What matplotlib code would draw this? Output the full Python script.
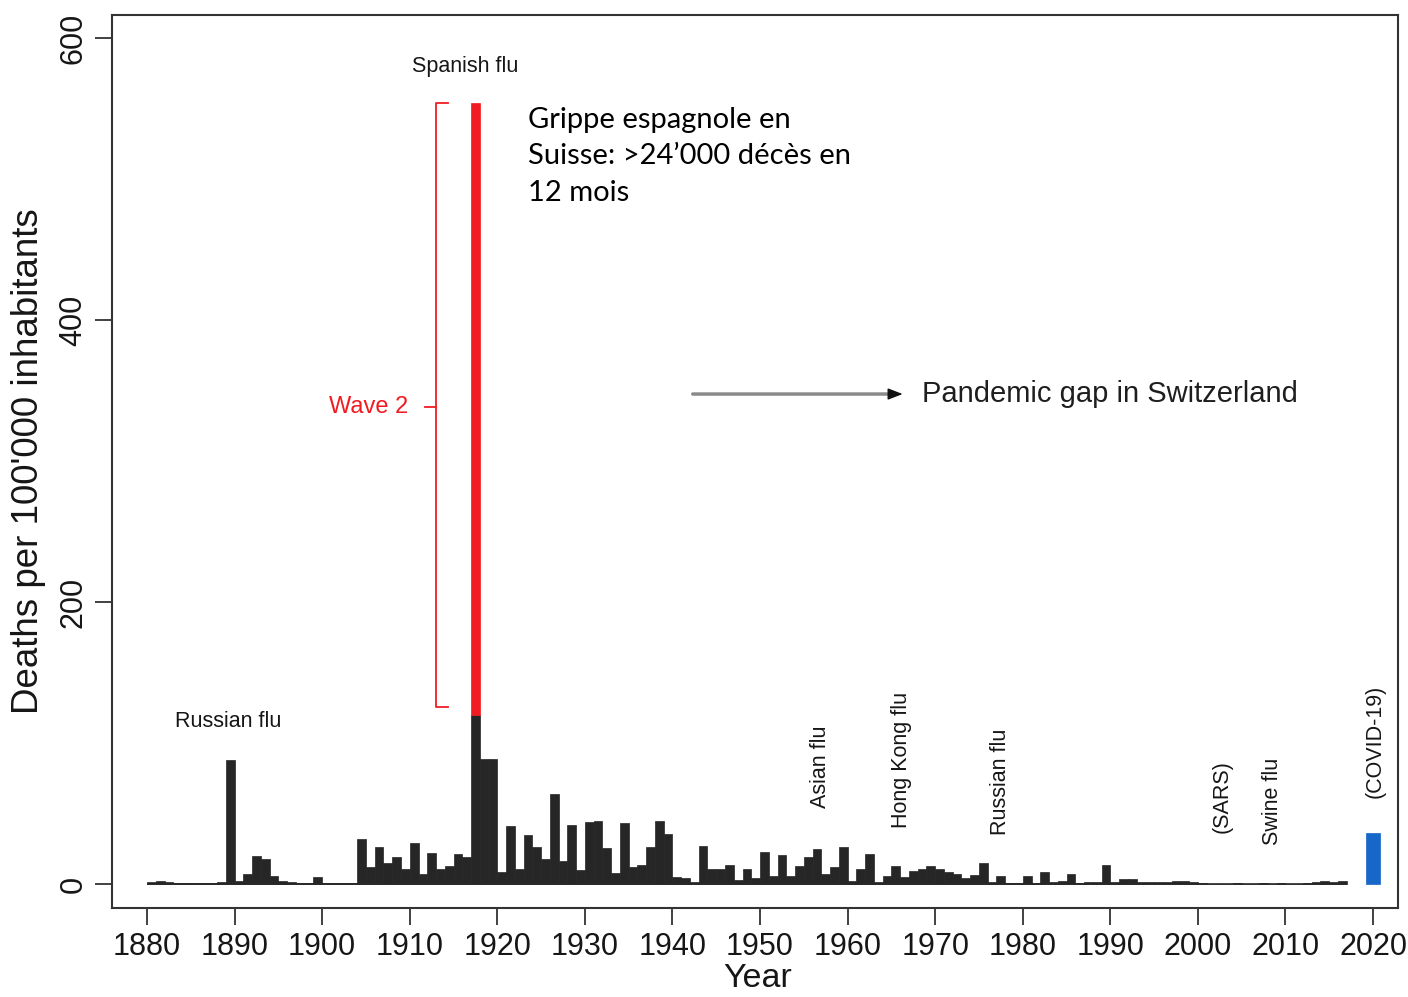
import matplotlib
matplotlib.use("Agg")
import matplotlib.pyplot as plt
import numpy as np

plt.rcParams["font.family"] = ["Liberation Sans", "DejaVu Sans"]

# Yearly influenza deaths per 100'000 inhabitants, Switzerland
years = np.arange(1881, 2018)
deaths = [
    1.5, 2, 1.5, 1, 1, 1, 1, 1, 1.5, 88,          # 1881-1890
    2.5, 7, 20, 18, 6, 2, 1.5, 1, 1, 5,           # 1891-1900
    1, 0.5, 1, 1, 32, 12, 26, 15, 19, 11,         # 1901-1910
    29, 7, 22, 11, 13, 21, 19, 120, 89, 89,       # 1911-1920
    8.5, 41.5, 11, 35, 26, 18, 64, 16.5, 42, 10,  # 1921-1930
    44, 45, 25.5, 8, 43, 12, 13.5, 26, 45, 35.5,  # 1931-1940
    4.7, 4, 1.7, 26.7, 11, 10.6, 13.5, 3, 11, 4,  # 1941-1950
    23, 6, 20.6, 6, 13, 19, 25, 7, 12, 26,        # 1951-1960
    2.4, 10.6, 21, 1.7, 6, 13, 4.7, 9.5, 11, 12.5,  # 1961-1970
    10.6, 8.7, 7, 4, 6.4, 15, 1.7, 5.4, 0.7, 0.7,   # 1971-1980
    5.4, 0.7, 8.3, 1.7, 2.4, 7, 0.7, 1.7, 1.7, 13.5,  # 1981-1990
    1.2, 3.5, 3.5, 1.7, 1.7, 1.2, 1.2, 2, 2.5, 1.7,   # 1991-2000
    0.5, 0.3, 0.3, 0.3, 1, 0.3, 0.3, 0.5, 0.3, 0.5,   # 2001-2010
    0.3, 0.3, 0.5, 1.5, 2.5, 1.5, 2.5,                # 2011-2017
]

spanish_year = 1918
spanish_peak = 554      # top of the red "wave 2" part
covid_year = 2020
covid_deaths = 36

# rotated pandemic labels: (text, x year, y bottom)
pandemic_labels = [
    ("Asian flu", 1956.85, 54),
    ("Hong Kong flu", 1966.2, 40),
    ("Russian flu", 1977.5, 35),
    ("(SARS)", 2002.75, 36),
    ("Swine flu", 2008.5, 27.7),
    ("(COVID-19)", 2020.2, 61),
]

DARK = "#262626"
RED = "#f01c22"
BLUE = "#1767c9"
TXT = "#161616"

fig = plt.figure(figsize=(14.08, 9.97), dpi=100)
ax = fig.add_axes([112 / 1408, 89 / 997, 1286 / 1408, 893 / 997])

ax.bar(years - 0.5, deaths, width=1.0, color=DARK, edgecolor=DARK, linewidth=0.5)
ax.hlines(0, years[0] - 1, years[-1], color=DARK, lw=1.2)

i_sp = list(years).index(spanish_year)
ax.bar(spanish_year - 0.5, spanish_peak - deaths[i_sp], bottom=deaths[i_sp],
       width=1.0, color=RED, edgecolor=RED, linewidth=0.5)
ax.bar(covid_year, covid_deaths, width=1.7, color=BLUE, edgecolor=BLUE, linewidth=0.5)

# Wave 2 bracket
bx = 1913.0
lo = 125.5
ax.plot([bx + 1.4, bx, bx, bx + 1.4], [spanish_peak, spanish_peak, lo, lo],
        color=RED, lw=1.3)
ax.plot([bx - 1.3, bx], [338, 338], color=RED, lw=1.3)
ax.text(bx - 3.2, 338, "Wave 2", color=RED, fontsize=17, ha="right", va="center")

ax.text(1916.3, 580, "Spanish flu", fontsize=15.5, ha="center", va="center", color=TXT)
ax.text(1889.25, 115.6, "Russian flu", fontsize=15.5, ha="center", va="center", color=TXT)

for label, x, y in pandemic_labels:
    ax.text(x, y, label, rotation=90, fontsize=15.5, ha="center", va="bottom", color=TXT)

ax.text(1923.5, 516, "Grippe espagnole en\nSuisse: >24\u2019000 d\u00e9c\u00e8s en\n12 mois",
        family=["Lato", "DejaVu Sans"], fontsize=21, ha="left", va="center",
        linespacing=1.52, color="black")

# Pandemic gap arrow
ax.annotate("", xy=(1965.2, 347.5), xytext=(1942, 347.5),
            arrowprops=dict(arrowstyle="-", color="#8a8a8a", lw=2.5))
ax.annotate("", xy=(1966.6, 347.5), xytext=(1964.6, 347.5),
            arrowprops=dict(arrowstyle="-|>,head_length=0.9,head_width=0.35",
                            color="#111111", lw=1))
ax.text(1968.5, 347.5, "Pandemic gap in Switzerland", fontsize=21,
        ha="left", va="center", color="#1e1e1e")

ax.set_xlim(1876, 2022.85)
ax.set_ylim(-17, 616.3)
ax.set_xticks(range(1880, 2021, 10))
ax.set_yticks([0, 200, 400, 600])
ax.tick_params(axis="both", length=12, width=1.3, color="#333333",
               labelsize=22, labelcolor=TXT)
ax.tick_params(axis="y", pad=5)
ax.tick_params(axis="x", pad=5)
for lab in ax.get_yticklabels():
    lab.set_rotation(90)
    lab.set_va("center")

for s in ax.spines.values():
    s.set_linewidth(1.5)
    s.set_color("#333333")

ax.set_ylabel("Deaths per 100'000 inhabitants", fontsize=26.5, va="center", color=TXT)
ax.yaxis.set_label_coords(-0.0653, 0.5)
ax.set_xlabel("Year", fontsize=24.5, va="center", color=TXT)
ax.xaxis.set_label_coords(0.502, -0.0795)

fig.savefig("out.png", dpi=100)
